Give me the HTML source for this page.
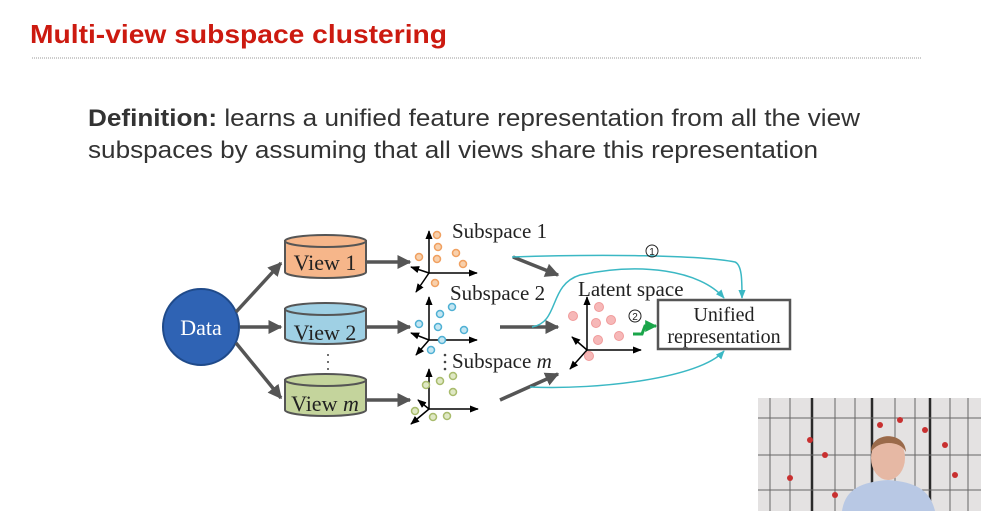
<!DOCTYPE html>
<html><head><meta charset="utf-8"><style>
html,body{margin:0;padding:0;background:#fff;}
svg{display:block;}
</style></head><body>
<svg width="981" height="511" viewBox="0 0 981 511" xmlns="http://www.w3.org/2000/svg">
<defs>
<marker id="ag" viewBox="0 0 10 10" refX="9" refY="5" markerWidth="4" markerHeight="4" orient="auto"><path d="M0,0 L10,5 L0,10 z" fill="#555"/></marker>
<marker id="ak" viewBox="0 0 10 10" refX="9" refY="5" markerWidth="6" markerHeight="6" orient="auto"><path d="M0,1 L10,5 L0,9 z" fill="#000"/></marker>
<marker id="ac" viewBox="0 0 10 10" refX="9" refY="5" markerWidth="6" markerHeight="6" orient="auto"><path d="M0,1 L10,5 L0,9 z" fill="#3bb8c4"/></marker>
<marker id="agr" viewBox="0 0 10 10" refX="9" refY="5" markerWidth="4" markerHeight="4" orient="auto"><path d="M0,0 L10,5 L0,10 z" fill="#1aa54a"/></marker>
</defs>
<rect width="981" height="511" fill="#fff"/>
<text x="30" y="43" font-family="Liberation Sans, sans-serif" font-weight="bold" font-size="26" fill="#cc1a10" textLength="417" lengthAdjust="spacingAndGlyphs">Multi-view subspace clustering</text>
<line x1="32" y1="58" x2="922" y2="58" stroke="#999" stroke-width="1" stroke-dasharray="1,1"/>
<text x="88" y="126" font-family="Liberation Sans, sans-serif" font-size="24" fill="#333" textLength="772" lengthAdjust="spacingAndGlyphs"><tspan font-weight="bold">Definition:</tspan> learns a unified feature representation from all the view</text>
<text x="88" y="158" font-family="Liberation Sans, sans-serif" font-size="24" fill="#333" textLength="730" lengthAdjust="spacingAndGlyphs">subspaces by assuming that all views share this representation</text>

<!-- Data -->
<circle cx="201" cy="327" r="38" fill="#2f63b4" stroke="#1f4a8a" stroke-width="2"/>
<text x="201" y="335" text-anchor="middle" font-family="Liberation Serif, serif" font-size="22" fill="#fff">Data</text>
<g stroke="#555" stroke-width="3.5" fill="none" marker-end="url(#ag)">
<line x1="236" y1="312" x2="281" y2="263"/>
<line x1="240" y1="327" x2="281" y2="327"/>
<line x1="236" y1="343" x2="281" y2="398"/>
<line x1="366" y1="262" x2="410" y2="262"/>
<line x1="366" y1="327" x2="410" y2="327"/>
<line x1="366" y1="400" x2="410" y2="400"/>
<line x1="513" y1="257" x2="558" y2="275"/>
<line x1="500" y1="327" x2="558" y2="327"/>
<line x1="500" y1="400" x2="558" y2="374"/>
</g>
<!-- cylinders -->
<g stroke="#555" stroke-width="2">
<path d="M285,241 V272 A40.5,6 0 0 0 366,272 V241 Z" fill="#f6b68a"/>
<ellipse cx="325.5" cy="241" rx="40.5" ry="6" fill="#f6b68a"/>
<path d="M285,309 V338 A40.5,6 0 0 0 366,338 V309 Z" fill="#9fd0e4"/>
<ellipse cx="325.5" cy="309" rx="40.5" ry="6" fill="#9fd0e4"/>
<path d="M285,380 V410 A40.5,6 0 0 0 366,410 V380 Z" fill="#c4d49c"/>
<ellipse cx="325.5" cy="380" rx="40.5" ry="6" fill="#c4d49c"/>
</g>
<g font-family="Liberation Serif, serif" font-size="22" fill="#222" text-anchor="middle">
<text x="325" y="270">View 1</text>
<text x="325" y="340">View 2</text>
<text x="325" y="411">View <tspan font-style="italic">m</tspan></text>
</g>
<g fill="#444"><circle cx="328" cy="355" r="1"/><circle cx="328" cy="362" r="1"/><circle cx="328" cy="369" r="1"/>
<circle cx="445" cy="355" r="1.3"/><circle cx="445" cy="362" r="1.3"/><circle cx="445" cy="369" r="1.3"/></g>

<!-- axes -->
<g stroke="#000" stroke-width="1.5" fill="none" marker-end="url(#ak)">
<line x1="429" y1="273" x2="429" y2="231"/><line x1="429" y1="273" x2="477" y2="273"/><line x1="429" y1="273" x2="411" y2="267"/><line x1="429" y1="273" x2="416" y2="292"/>
<line x1="429" y1="340" x2="429" y2="297"/><line x1="429" y1="340" x2="477" y2="340"/><line x1="429" y1="340" x2="411" y2="333"/><line x1="429" y1="340" x2="416" y2="355"/>
<line x1="429" y1="409" x2="429" y2="369"/><line x1="429" y1="409" x2="478" y2="409"/><line x1="429" y1="409" x2="418" y2="400"/><line x1="429" y1="409" x2="411" y2="424"/>
<line x1="587" y1="350" x2="587" y2="297"/><line x1="587" y1="350" x2="641" y2="350"/><line x1="587" y1="350" x2="572" y2="337"/><line x1="587" y1="350" x2="570" y2="369"/>
</g>
<g fill="#f8d0ac" stroke="#f0a060" stroke-width="1.5">
<circle cx="437" cy="235" r="3.5"/><circle cx="438" cy="247" r="3.5"/><circle cx="419" cy="257" r="3.5"/><circle cx="437" cy="259" r="3.5"/><circle cx="456" cy="253" r="3.5"/><circle cx="463" cy="264" r="3.5"/><circle cx="435" cy="283" r="3.5"/></g>
<g fill="#c4e6f2" stroke="#4fb0d4" stroke-width="1.5">
<circle cx="452" cy="307" r="3.5"/><circle cx="440" cy="314" r="3.5"/><circle cx="419" cy="324" r="3.5"/><circle cx="438" cy="327" r="3.5"/><circle cx="464" cy="330" r="3.5"/><circle cx="442" cy="340" r="3.5"/><circle cx="431" cy="350" r="3.5"/></g>
<g fill="#dfe8c4" stroke="#a8bb6c" stroke-width="1.5">
<circle cx="453" cy="376" r="3.5"/><circle cx="440" cy="381" r="3.5"/><circle cx="426" cy="385" r="3.5"/><circle cx="453" cy="392" r="3.5"/><circle cx="415" cy="411" r="3.5"/><circle cx="433" cy="417" r="3.5"/><circle cx="447" cy="416" r="3.5"/></g>
<g fill="#f6b8b8" stroke="#f09a9a" stroke-width="1">
<circle cx="573" cy="316" r="4.5"/><circle cx="599" cy="307" r="4.5"/><circle cx="596" cy="323" r="4.5"/><circle cx="611" cy="320" r="4.5"/><circle cx="598" cy="340" r="4.5"/><circle cx="619" cy="336" r="4.5"/><circle cx="589" cy="356" r="4.5"/></g>

<g font-family="Liberation Serif, serif" font-size="21" fill="#222">
<text x="452" y="238">Subspace 1</text>
<text x="450" y="300">Subspace 2</text>
<text x="452" y="368">Subspace <tspan font-style="italic">m</tspan></text>
<text x="578" y="296">Latent space</text>
</g>
<!-- cyan curves -->
<g stroke="#3bb8c4" stroke-width="1.5" fill="none" marker-end="url(#ac)">
<path d="M512,257 C600,254 700,255 735,262 C742,265 742,280 742,298"/>
<path d="M532,327 C560,322 548,285 580,275 C640,262 700,270 724,298"/>
<path d="M530,387 C600,390 700,378 724,351"/>
</g>
<polyline points="633,334 642,334 645,326 656,326" stroke="#1aa54a" stroke-width="3" fill="none" marker-end="url(#agr)"/>
<g font-family="Liberation Sans, sans-serif" font-size="10" fill="#222" text-anchor="middle">
<circle cx="652" cy="251" r="6" fill="none" stroke="#222" stroke-width="1"/><text x="652" y="255">1</text>
<circle cx="635" cy="316" r="6" fill="none" stroke="#222" stroke-width="1"/><text x="635" y="320">2</text>
</g>
<rect x="658" y="300" width="132" height="49" fill="#fff" stroke="#555" stroke-width="2.5"/>
<g font-family="Liberation Serif, serif" font-size="20" fill="#222" text-anchor="middle">
<text x="724" y="321">Unified</text>
<text x="724" y="343">representation</text>
</g>

<!-- webcam -->
<g>
<rect x="758" y="398" width="223" height="113" fill="#e4e2e2"/>
<g stroke="#2a2a2a" stroke-width="2.5"><line x1="812" y1="398" x2="812" y2="511"/><line x1="872" y1="398" x2="872" y2="511"/><line x1="930" y1="398" x2="930" y2="511"/></g>
<g stroke="#666" stroke-width="1"><line x1="770" y1="398" x2="770" y2="511"/><line x1="790" y1="398" x2="790" y2="511"/><line x1="835" y1="398" x2="835" y2="511"/><line x1="855" y1="398" x2="855" y2="511"/><line x1="895" y1="398" x2="895" y2="511"/><line x1="915" y1="398" x2="915" y2="511"/><line x1="950" y1="398" x2="950" y2="511"/><line x1="968" y1="398" x2="968" y2="511"/>
<line x1="758" y1="418" x2="981" y2="418"/><line x1="758" y1="455" x2="981" y2="455"/><line x1="758" y1="490" x2="981" y2="490"/></g>
<g fill="#c83030"><circle cx="810" cy="440" r="3"/><circle cx="825" cy="455" r="3"/><circle cx="790" cy="478" r="3"/><circle cx="880" cy="425" r="3"/><circle cx="925" cy="430" r="3"/><circle cx="945" cy="445" r="3"/><circle cx="955" cy="475" r="3"/><circle cx="835" cy="495" r="3"/><circle cx="900" cy="420" r="3"/></g>
<path d="M842,511 C845,490 860,482 888,480 C916,482 930,490 935,511 Z" fill="#b8c8e4"/>
<ellipse cx="888" cy="458" rx="17" ry="22" fill="#e6b8a4"/>
<path d="M871,452 C870,432 905,430 906,452 C900,440 878,440 871,452 Z" fill="#9a6a4a"/>
</g>
</svg>
</body></html>
